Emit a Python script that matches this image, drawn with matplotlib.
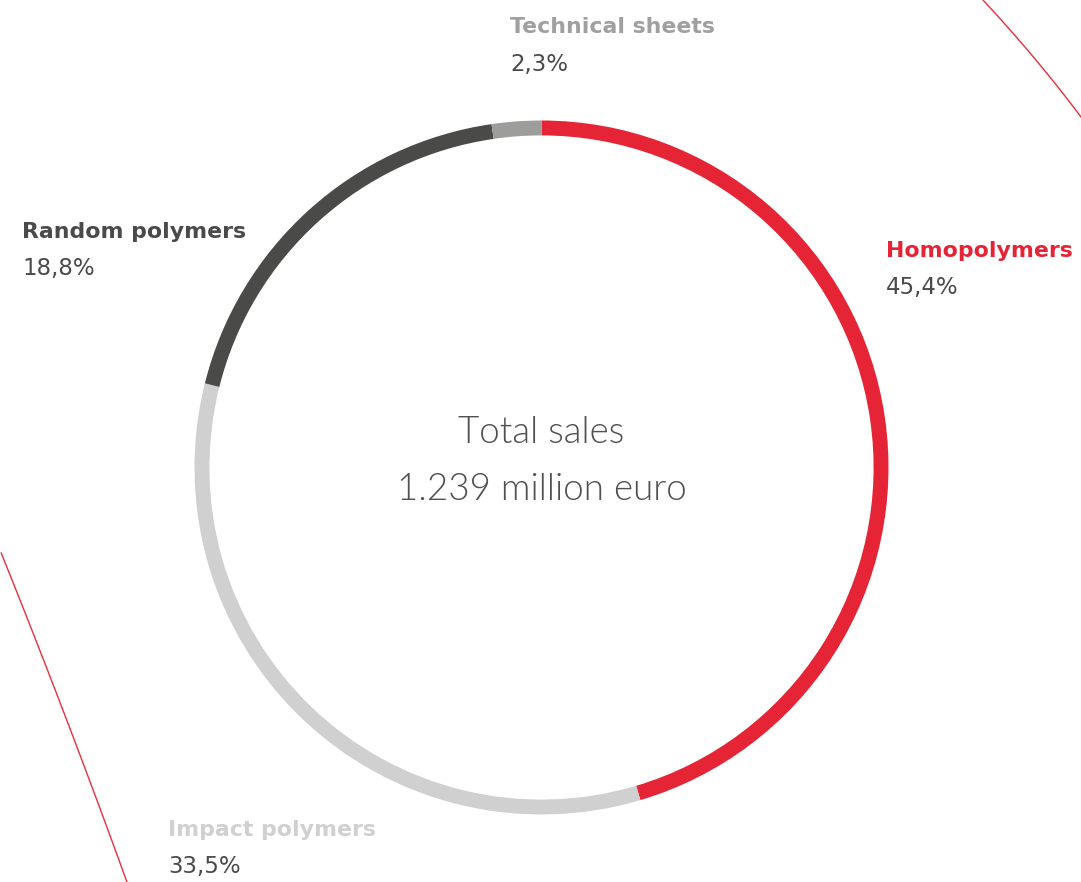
import numpy as np
import matplotlib
matplotlib.use("Agg")
import matplotlib.pyplot as plt

# data
categories = ["Homopolymers", "Impact polymers", "Random polymers", "Technical sheets"]
shares = [45.4, 33.5, 18.8, 2.3]
share_labels = ["45,4%", "33,5%", "18,8%", "2,3%"]
colors = ["#e52535", "#d0d0d0", "#4a4a48", "#9d9d9b"]
label_colors = ["#e52535", "#d0d0d0", "#4a4a4a", "#a0a0a0"]
center_lines = ["Total sales", "1.239 million euro"]

W, H = 1081, 882
fig = plt.figure(figsize=(W / 100, H / 100), dpi=100)

def px(x, y):
    return x / W, 1 - y / H

# ring
cx, cy, R = 541.5, 467.5, 347
ax = fig.add_axes([(cx - R) / W, (H - cy - R) / H, 2 * R / W, 2 * R / H])
ax.pie(shares, colors=colors, startangle=90, counterclock=False,
       radius=1, wedgeprops=dict(width=0.043, linewidth=0))
ax.set_xlim(-1, 1)
ax.set_ylim(-1, 1)
ax.set_aspect("auto")
ax.axis("off")

# center text
for txt, yy in zip(center_lines, (0.1, -0.065)):
    ax.text(0, yy, txt, ha="center", va="center", fontsize=26.5,
            family="Lato", fontweight=300, color="#505050")

# category labels (pixel anchors of the title line)
label_pos = [(886, 251), (168, 830), (22, 232), (510, 27)]
for name, pct, lc, (x, y) in zip(categories, share_labels, label_colors, label_pos):
    fig.text(*px(x, y), name, ha="left", va="center", fontsize=15.8,
             family="DejaVu Sans", fontweight="bold", color=lc)
    fig.text(*px(x, y + 37), pct, ha="left", va="center", fontsize=16.5,
             family="DejaVu Sans", color="#4a4a4a")

# decorative red arcs
deco = fig.add_axes([0, 0, 1, 1], zorder=-1)
deco.set_xlim(0, W)
deco.set_ylim(H, 0)
deco.axis("off")
bl = np.array([(0, 553), (33, 627), (70, 730), (100, 813), (128, 882)])
tr = np.array([(983, 0), (1030, 53), (1081, 117)])
for pts in (bl, tr):
    c = np.polyfit(pts[:, 1], pts[:, 0], 2)
    yy = np.linspace(pts[0, 1], pts[-1, 1], 100)
    deco.plot(np.polyval(c, yy), yy, color="#e8303c", lw=1)

fig.savefig("out.png", dpi=100)
